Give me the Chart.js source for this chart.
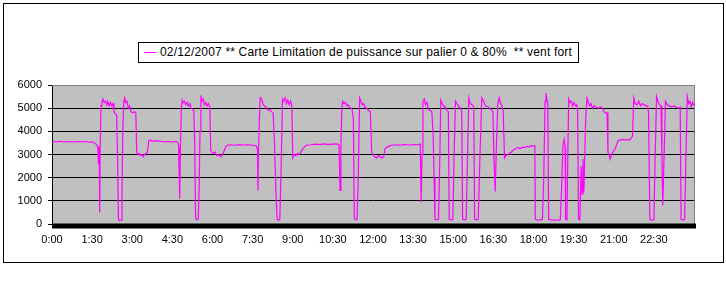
<!DOCTYPE html>
<html>
<head>
<meta charset="utf-8">
<script src="https://cdn.jsdelivr.net/npm/chart.js@4/dist/chart.umd.min.js"></script>
<style>
html,body{margin:0;padding:0;background:#fff;}
#wrap{position:relative;width:726px;height:297px;overflow:hidden;}
#frame{position:absolute;left:3px;top:3px;width:721px;height:260px;border:1px solid #000;box-sizing:border-box;}
#legend{position:absolute;left:138px;top:42px;width:441px;height:21px;border:1px solid #000;box-sizing:border-box;background:#fff;
  font:12px 'Liberation Sans',Arial,sans-serif;color:#000;white-space:pre;line-height:19px;}
#legend .sw{position:absolute;left:5px;top:9px;width:12px;height:0;border-top:1px solid #FF00FF;}
#legend .tx{position:absolute;left:21px;top:0;}
canvas{position:absolute;left:0;top:0;}
</style>
</head>
<body>
<div id="wrap">
  <div id="frame"></div>
  <canvas id="c" width="726" height="297"></canvas>
  <div id="legend"><span class="sw"></span><span class="tx" id="legtext"></span></div>
</div>
<script>
// ---- data (minutes since 0:00, power) ----
const seriesLabel = '02/12/2007 ** Carte Limitation de puissance sur palier 0 & 80%  ** vent fort';
const tickLabels = ['0:00','1:30','3:00','4:30','6:00','7:30','9:00','10:30','12:00','13:30','15:00','16:30','18:00','19:30','21:00','22:30'];
const yTicks = [0,1000,2000,3000,4000,5000,6000];

const times = [
  0,3,10,15,25,35,45,55,65,75,85,92,97,100,103,104,105,106,107,108,110,112,114,117,120,123,125,128,131,134,137,139,142,145,147,149,152,155,157,159,161,163,165,168,171,174,177,181,185,188,190,193,196,199,202,205,208,211,214,217,
  220,225,230,240,250,260,270,278,282,284,285,286,287,288,290,292,294,297,300,303,306,309,312,315,318,320,322,325,328,330,332,334,336,339,342,345,348,351,354,356,358,362,366,370,374,378,382,386,390,394,
  400,410,420,430,440,450,458,461,462,463,465,467,470,473,476,480,484,488,492,496,499,502,505,508,511,514,517,520,523,526,529,532,535,538,540,543,547,551,555,559,563,567,571,
  580,590,600,610,620,630,640,644,646,648,650,652,655,658,661,664,667,670,673,676,678,681,684,687,690,693,696,699,702,706,710,714,717,720,724,728,732,736,740,744,747,750,755,760,
  770,780,790,800,810,820,826,828,830,832,835,838,841,844,848,852,855,857,859,863,867,870,872,875,878,882,886,889,891,895,899,902,905,908,912,916,919,921,925,929,932,935,938,942,946,948,952,956,960,964,968,972,978,984,989,991,994,997,1000,1003,1006,1009,1012,1015,1018,1022,1026,1030,1035,1040,1045,1050,1055,1060,1065,1070,1075,1080,1083,
  1084,1090,1095,1100,1103,1106,1108,1110,1112,1114,1120,1130,1140,1143,1146,1149,1151,1152,1155,1157,1159,1162,1165,1168,1171,1174,1177,1179,1181,1184,1187,1189,1191,1193,1195,1197,1200,1203,1206,1209,1212,1216,1220,1225,1230,1235,1238,1242,1245,1247,1250,1252,1255,1258,1262,1266,1270,1275,1280,1285,1290,1295,1299,1302,
  1305,1308,1312,1316,1320,1324,1328,1332,1336,1338,1341,1345,1350,1353,1356,1359,1362,1366,1368,1370,1373,1376,1380,1385,1390,1395,1400,1405,1409,1411,1415,1419,1422,1425,1428,1431,1434,1437,1440
];
const power = [
  3500,3560,3540,3570,3550,3560,3540,3560,3550,3560,3530,3540,3480,3420,3300,2600,3350,3100,500,3200,5100,5250,5400,5250,5300,5150,5300,5100,5250,5100,5200,4850,4750,4700,3000,200,150,180,1500,4200,5300,5450,5250,5300,5000,5100,4850,4800,4850,4800,3100,3000,3050,2950,3000,2900,3000,3050,3100,3600,
  3620,3580,3600,3580,3550,3560,3540,3560,3520,3400,2400,3300,1100,3200,5000,5350,5250,5300,5150,5250,5100,5200,5000,4950,4900,3500,250,180,200,1500,4000,5550,5300,5400,5150,5250,5100,5200,5050,3200,3100,3050,3100,2950,3000,2900,2950,3150,3350,3400,
  3420,3400,3430,3410,3420,3400,3380,3200,1450,3000,4500,5450,5400,5200,5100,5050,4900,4950,4850,4800,3500,1500,200,170,200,2500,5400,5300,5450,5200,5350,5150,5300,5100,2850,3000,2950,3050,3000,3150,3250,3350,3400,
  3420,3450,3430,3460,3440,3450,3460,3400,1450,3300,5000,5300,5200,5250,5100,5150,5050,5000,4950,4500,250,180,200,2000,5450,5300,5150,5200,5050,5000,4900,4850,3100,3000,2900,2850,2950,2900,2850,2900,3250,3300,3350,3400,
  3420,3400,3440,3410,3430,3420,3450,950,3000,5300,5400,5150,5250,4950,4900,4850,3800,2000,200,180,200,3000,5350,5200,5100,5050,4900,4850,200,170,200,3000,5300,5200,5100,5000,4900,200,180,200,3000,5450,5200,5150,5050,200,180,200,3000,5450,5300,5100,5050,4950,4850,3000,1400,3500,5200,5450,5200,5100,4900,2850,2950,3000,3050,3100,3200,3250,3300,3250,3320,3300,3350,3330,3380,3350,3380,
  200,170,180,200,2000,5300,5650,5400,5200,200,180,170,180,1500,3400,3650,3300,200,180,3000,5400,5250,5300,5100,5250,5100,5150,4800,200,180,2500,1300,2800,1400,3000,4500,5450,5250,5100,5200,5000,5100,5050,5000,5050,5000,4850,4800,4800,3100,2950,2800,3000,3100,3200,3400,3600,3620,3650,3620,3650,3620,3700,3800,
  5450,5200,5150,5300,5100,5200,5150,5100,5100,4800,200,170,180,3000,5500,5300,5150,5100,3000,800,3000,5300,5150,5100,5050,5100,5050,5000,5050,200,170,200,3000,5500,5200,5300,5050,5250,5100
];

const font = {family:"'Liberation Sans', Arial, sans-serif", size:11};

// legend text: fit to the reference legend's text width
const leg = document.getElementById('legtext');
leg.textContent = seriesLabel;
const targetW = 412;
const w0 = leg.getBoundingClientRect().width;
leg.style.letterSpacing = ((targetW - w0) / seriesLabel.length).toFixed(3) + 'px';

const plotBg = {
  id:'plotBg',
  beforeDraw(chart){
    const {ctx, chartArea:a} = chart;
    ctx.save();
    ctx.fillStyle = '#C0C0C0';
    ctx.fillRect(a.left, a.top, a.right - a.left, a.bottom - a.top);
    ctx.restore();
  },
  afterDraw(chart){
    const {ctx, chartArea:a} = chart;
    ctx.save();
    ctx.strokeStyle = '#808080';
    ctx.lineWidth = 1;
    ctx.beginPath();
    ctx.moveTo(a.left, a.top + 0.5);
    ctx.lineTo(a.right + 0.5, a.top + 0.5);
    ctx.lineTo(a.right + 0.5, a.bottom);
    ctx.stroke();
    ctx.fillStyle = '#000';
    ctx.fillRect(a.left, a.bottom - 0.5, a.right - a.left + 2, 5);
    ctx.restore();
  }
};

new Chart(document.getElementById('c'), {
  type:'line',
  data:{datasets:[{
    label: seriesLabel,
    data: times.map((t,i)=>({x:t, y:power[i]})),
    borderColor:'#FF00FF', borderWidth:1.2, pointRadius:0, tension:0, fill:false
  }]},
  options:{
    responsive:false, animation:false, devicePixelRatio:1,
    layout:{padding:{left:0, right:32, top:85, bottom:49}},
    plugins:{legend:{display:false}, tooltip:{enabled:false}},
    scales:{
      x:{
        type:'linear', min:0, max:1440,
        afterBuildTicks(s){ s.ticks = tickLabels.map((l,i)=>({value:i*90})); },
        afterFit(s){ s.height = 24; },
        ticks:{callback:(v)=>tickLabels[Math.round(v/90)], autoSkip:false, maxRotation:0, minRotation:0, font, color:'#000', padding:9},
        grid:{display:false, drawTicks:false},
        border:{display:false}
      },
      y:{
        min:0, max:6000,
        afterBuildTicks(s){ s.ticks = yTicks.map(v=>({value:v})); },
        afterFit(s){ s.width = 52; },
        ticks:{callback:(v)=>String(v), font, color:'#000', padding:6},
        grid:{color:(c)=> c.tick && c.tick.value===6000 ? '#808080' : '#000', lineWidth:1, tickLength:4, drawTicks:true, tickColor:'#000'},
        border:{display:true, color:'#000', width:1}
      }
    }
  },
  plugins:[plotBg]
});
</script>
</body>
</html>
